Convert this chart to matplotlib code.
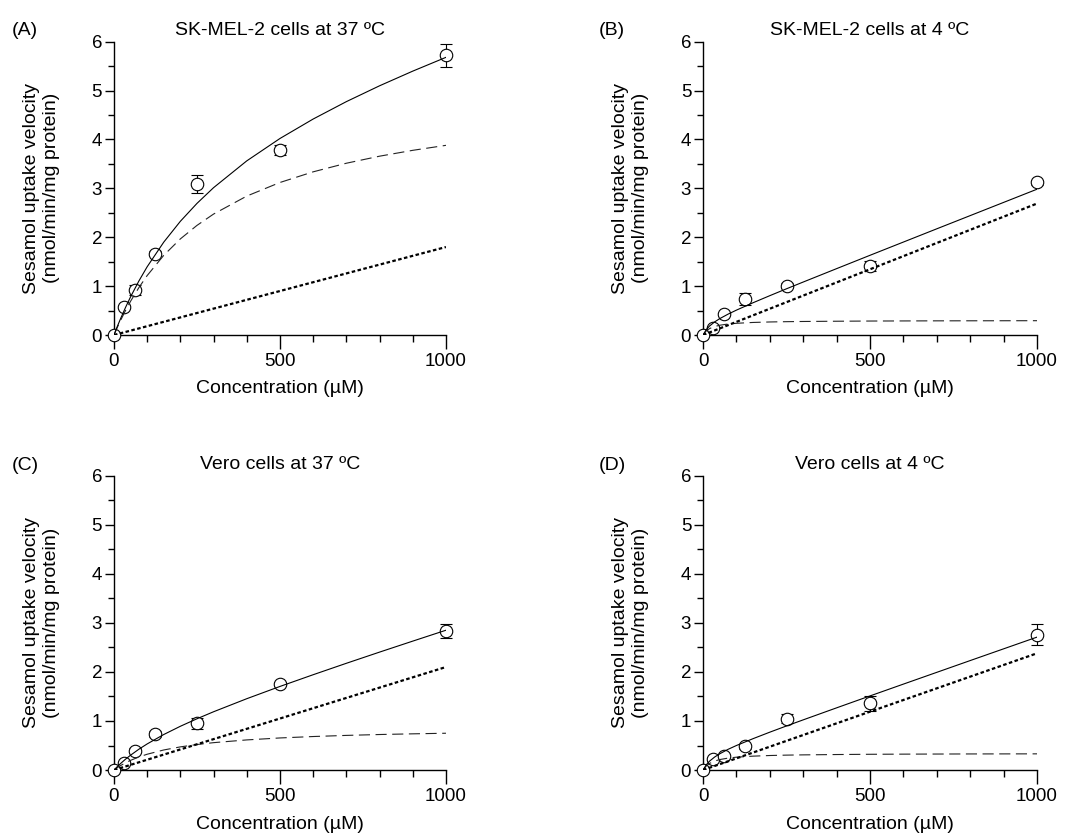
import matplotlib
matplotlib.use("Agg")
import matplotlib.pyplot as plt
from matplotlib.ticker import MultipleLocator

plt.rcParams['font.family'] = ['Liberation Sans', 'DejaVu Sans']

# sesamol concentrations (uM)
conc = [0, 31.25, 62.5, 125, 250, 500, 1000]

# measured uptake velocity (nmol/min/mg protein) and SEM
skmel_37 = [0, 0.58, 0.92, 1.66, 3.09, 3.78, 5.72]
skmel_37_err = [0, 0.04, 0.11, 0.05, 0.19, 0.10, 0.24]
skmel_4 = [0, 0.15, 0.42, 0.74, 1.01, 1.41, 3.12]
skmel_4_err = [0, 0.03, 0.04, 0.12, 0.05, 0.10, 0.05]
vero_37 = [0, 0.14, 0.39, 0.73, 0.95, 1.75, 2.83]
vero_37_err = [0, 0.03, 0.05, 0.06, 0.12, 0.04, 0.14]
vero_4 = [0, 0.22, 0.28, 0.48, 1.05, 1.36, 2.76]
vero_4_err = [0, 0.04, 0.05, 0.06, 0.10, 0.15, 0.22]

# fitted curves
curve_x = [0, 10, 20, 35, 50, 75, 100, 150, 200, 250, 300, 400, 500, 600, 700, 800, 900, 1000]
line_x = [0, 1000]

skmel_37_total = [0, 0.173, 0.336, 0.566, 0.780, 1.104, 1.396, 1.900, 2.326, 2.692, 3.014,
                  3.562, 4.020, 4.418, 4.774, 5.098, 5.398, 5.680]
skmel_37_sat = [0, 0.155, 0.300, 0.503, 0.690, 0.969, 1.216, 1.630, 1.966, 2.242, 2.474,
                2.842, 3.120, 3.338, 3.514, 3.658, 3.778, 3.880]
skmel_37_diff = [0, 1.80]

skmel_4_total = [0, 0.113, 0.187, 0.269, 0.335, 0.427, 0.509, 0.661, 0.805, 0.946, 1.084,
                 1.358, 1.631, 1.902, 2.173, 2.443, 2.713, 2.983]
skmel_4_sat = [0, 0.086, 0.133, 0.175, 0.200, 0.225, 0.240, 0.257, 0.267, 0.273, 0.277,
               0.282, 0.286, 0.288, 0.290, 0.291, 0.292, 0.293]
skmel_4_diff = [0, 2.69]

vero_37_total = [0, 0.069, 0.133, 0.222, 0.302, 0.424, 0.532, 0.724, 0.892, 1.045, 1.188,
                 1.454, 1.704, 1.943, 2.176, 2.404, 2.628, 2.850]
vero_37_sat = [0, 0.048, 0.091, 0.148, 0.197, 0.266, 0.322, 0.409, 0.472, 0.520, 0.558,
               0.614, 0.654, 0.683, 0.706, 0.724, 0.738, 0.750]
vero_37_diff = [0, 2.10]

vero_4_total = [0, 0.109, 0.184, 0.266, 0.331, 0.422, 0.500, 0.640, 0.772, 0.899, 1.023,
                1.268, 1.511, 1.752, 1.992, 2.232, 2.471, 2.710]
vero_4_sat = [0, 0.085, 0.136, 0.183, 0.213, 0.243, 0.262, 0.283, 0.296, 0.304, 0.309,
              0.316, 0.321, 0.324, 0.326, 0.328, 0.329, 0.330]
vero_4_diff = [0, 2.38]

W, H = 1072, 834
fig = plt.figure(figsize=(W / 100, H / 100), dpi=100)


def draw_panel(rect, letter, letter_xy, title, y, yerr, total, sat, diff):
    ax = fig.add_axes(rect)
    ax.errorbar(conc, y, yerr=yerr, fmt='none', ecolor='black', elinewidth=0.8,
                capsize=4.5, capthick=0.8, clip_on=False, zorder=2)
    ax.plot(conc, y, 'o', ms=9, mfc='white', mec='black', mew=0.8, clip_on=False, zorder=3)
    ax.plot(curve_x, sat, color='#222222', lw=0.8, ls=(0, (10, 5)), zorder=4)
    ax.plot(line_x, diff, color='black', lw=1.6, ls=(0, (1.6, 1.1)), zorder=4)
    ax.plot(curve_x, total, color='black', lw=0.8, zorder=4)

    ax.set_xlim(0, 1000)
    ax.set_ylim(0, 6)
    for s in ['top', 'right']:
        ax.spines[s].set_visible(False)
    for s in ['left', 'bottom']:
        ax.spines[s].set_linewidth(1.0)

    ax.xaxis.set_major_locator(MultipleLocator(500))
    ax.xaxis.set_minor_locator(MultipleLocator(100))
    ax.yaxis.set_major_locator(MultipleLocator(1))
    ax.yaxis.set_minor_locator(MultipleLocator(0.5))
    ax.tick_params(axis='x', which='major', length=10, width=1, pad=3, labelsize=13.5)
    ax.tick_params(axis='x', which='minor', length=5, width=1)
    ax.tick_params(axis='y', which='major', length=6.5, width=1, pad=2, labelsize=13.5)
    ax.tick_params(axis='y', which='minor', length=4, width=1)

    ax.set_title(title, fontsize=14, pad=5)
    ax.set_xlabel('Concentration (µM)', fontsize=14)
    ax.xaxis.set_label_coords(0.5, -0.155)
    ax.set_ylabel('Sesamol uptake velocity\n(nmol/min/mg protein)', fontsize=14)
    ax.yaxis.set_label_coords(-0.163, 0.5)

    fig.text(letter_xy[0] / W, 1 - letter_xy[1] / H, letter, fontsize=14, va='baseline')
    return ax


draw_panel([0.1063, 0.5983, 0.3097, 0.3517], '(A)', (12, 35), 'SK-MEL-2 cells at 37 ºC',
           skmel_37, skmel_37_err, skmel_37_total, skmel_37_sat, skmel_37_diff)
draw_panel([0.6558, 0.5983, 0.3116, 0.3517], '(B)', (599, 35), 'SK-MEL-2 cells at 4 ºC',
           skmel_4, skmel_4_err, skmel_4_total, skmel_4_sat, skmel_4_diff)
draw_panel([0.1063, 0.0767, 0.3097, 0.3529], '(C)', (12, 470), 'Vero cells at 37 ºC',
           vero_37, vero_37_err, vero_37_total, vero_37_sat, vero_37_diff)
draw_panel([0.6558, 0.0767, 0.3116, 0.3529], '(D)', (599, 470), 'Vero cells at 4 ºC',
           vero_4, vero_4_err, vero_4_total, vero_4_sat, vero_4_diff)

fig.savefig('out.png', dpi=100)
